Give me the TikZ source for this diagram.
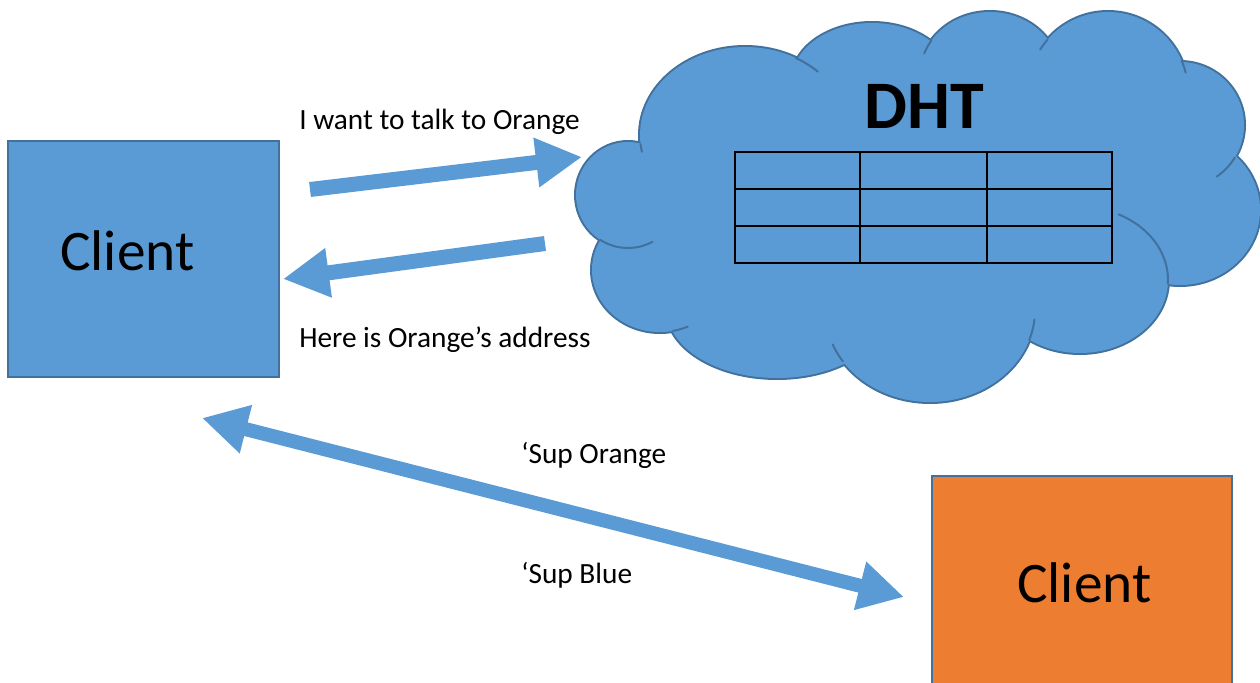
\documentclass[tikz,border=0pt]{standalone}
\usepackage{fontspec}
\setmainfont{Carlito}
\usetikzlibrary{arrows.meta,calc}
\definecolor{bfill}{HTML}{5B9BD5}
\definecolor{bline}{HTML}{41719C}
\definecolor{ofill}{HTML}{ED7D31}
\begin{document}
\begin{tikzpicture}[x=0.75pt,y=-0.75pt,
  box/.style={draw=bline,line width=1.5pt,inner sep=0pt},
  blk/.style={draw=bfill,line width=11.25pt,line cap=butt,-{Triangle[width=35pt,length=34.5pt]}},
  dblk/.style={draw=bfill,line width=10.5pt,line cap=butt,{Triangle[width=35pt,length=34pt]}-{Triangle[width=35pt,length=34pt]}},
  lbl/.style={font=\fontsize{22}{26}\selectfont,anchor=base west,inner sep=0pt},
  big/.style={font=\fontsize{43}{50}\selectfont,anchor=base west,inner sep=0pt},
  cloudline/.style={draw=bline,line width=3pt},
  cloudtail/.style={draw=bline,line width=1.5pt,line cap=round},
  cloudfill/.style={fill=bfill}]
\useasboundingbox (0,0) rectangle (1260,682);
\clip (0,0) rectangle (1260,682);
% cloud
\foreach \cx/\cy/\rx/\ry in {628/195/52/53,745/135/105/88,872/80/80/57,990/75/70/63,1108/92/80/80,1180/125/64/63,1180/210/80/75,1080/280/88/73,930/310/105/92,777/310/110/68,660/270/68/62}
  \draw[cloudline] (\cx,\cy) ellipse [x radius=\rx*0.75pt, y radius=\ry*0.75pt];
\foreach \cx/\cy/\rx/\ry in {628/195/52/53,745/135/105/88,872/80/80/57,990/75/70/63,1108/92/80/80,1180/125/64/63,1180/210/80/75,1080/280/88/73,930/310/105/92,777/310/110/68,660/270/68/62}
  \fill[cloudfill] (\cx,\cy) ellipse [x radius=\rx*0.75pt, y radius=\ry*0.75pt];
\fill[cloudfill] (628,195) -- (745,135) -- (872,80) -- (990,75) -- (1108,92) -- (1180,125) -- (1180,210) -- (1080,280) -- (930,310) -- (777,310) -- (660,270) -- cycle;
% inner arc ends of the cloud bumps
\foreach \cx/\cy/\rx/\ry/\ta/\tb in {745/135/105/88/169/174, 745/135/105/88/-61/-46, 990/75/70/63/-160/-147, 1108/92/80/80/-148/-139, 1108/92/80/80/-23/-14, 1180/125/64/63/31/55, 1080/280/88/73/-64/3, 930/310/105/92/6/19, 930/310/105/92/146/158, 660/270/68/62/66/79, 628/195/52/53/62/122}
  \draw[cloudtail] plot[variable=\t,domain=\ta:\tb,samples=24,smooth] ({\cx+\rx*cos(\t)},{\cy+\ry*sin(\t)});
\coordinate (cloud) at (920,210);
% DHT title and table
\node[font=\fontsize{51}{60}\selectfont\bfseries,anchor=base,inner sep=0pt] (dht) at (924.5,128) {DHT};
\node[draw=black,line width=1.5pt,minimum width=282.75pt,minimum height=83.25pt,inner sep=0pt] (tbl) at (923.5,207.5) {};
\foreach \f in {1,2} {
  \draw[black,line width=1.5pt] ($(tbl.north west)!\f/3!(tbl.north east)$) -- ($(tbl.south west)!\f/3!(tbl.south east)$);
  \draw[black,line width=1.5pt] ($(tbl.north west)!\f/3!(tbl.south west)$) -- ($(tbl.north east)!\f/3!(tbl.south east)$);
}
% clients
\node[box,fill=bfill,minimum width=203.25pt,minimum height=177pt] (c1) at (143.5,259) {};
\node[big] (c1t) at (60,270) {Client};
\node[box,fill=ofill,minimum width=225pt,minimum height=187.5pt] (c2) at (1082,601) {};
\node[big] (c2t) at (1017,602) {Client};
% arrows
\coordinate (a1s) at (310,189.5);
\coordinate (a1e) at (582,157);
\coordinate (a2s) at (545,243.5);
\coordinate (a2e) at (283,279);
\coordinate (a3s) at (202,418);
\coordinate (a3e) at (904,597);
\draw[blk] (a1s) -- (a1e);
\draw[blk] (a2s) -- (a2e);
\draw[dblk] (a3s) -- (a3e);
% labels
\node[lbl] (t1) at (299,129) {I want to talk to Orange};
\node[lbl] (t2) at (299,347) {Here is Orange’s address};
\node[lbl] (t3) at (521,463) {‘Sup Orange};
\node[lbl] (t4) at (521,583) {‘Sup Blue};
\end{tikzpicture}
\end{document}
